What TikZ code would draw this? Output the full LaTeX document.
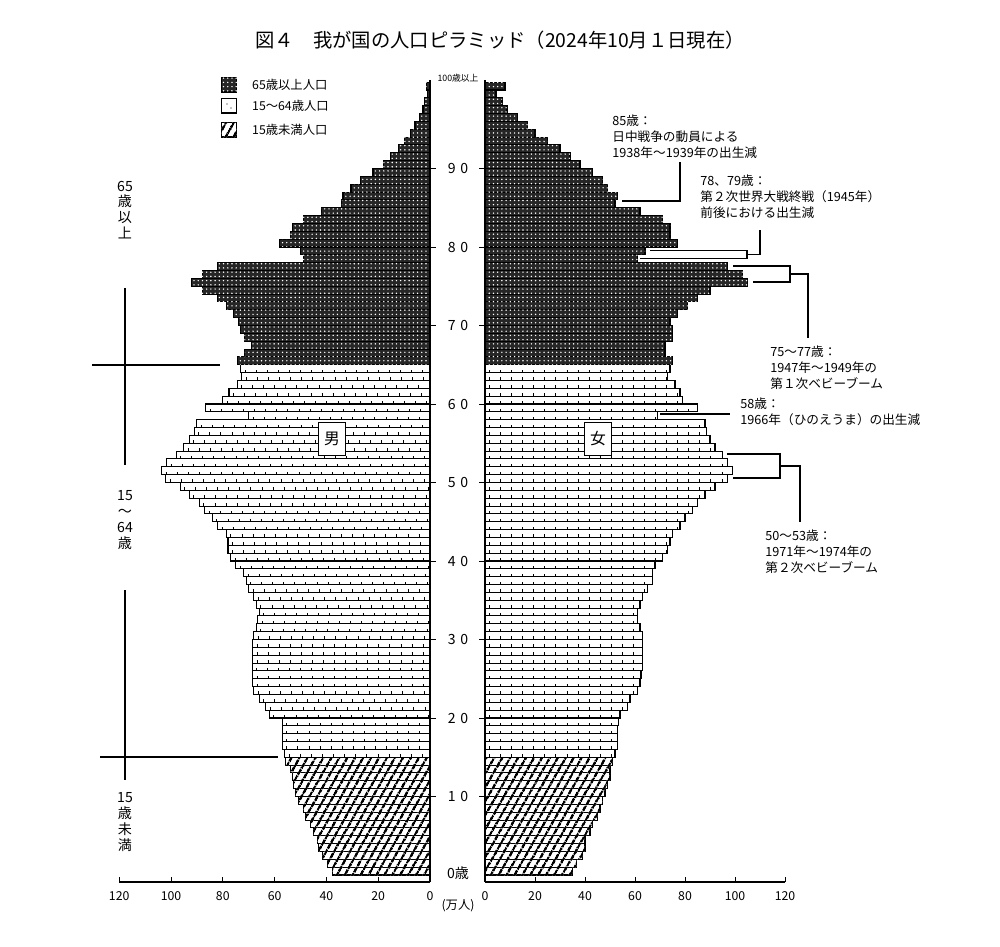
\documentclass[tikz,border=0pt]{standalone}
\usepackage{fontspec}
\setmainfont{Noto Sans CJK JP}
\usetikzlibrary{patterns.meta}

% population in 10,000s, age 0 to 100+
\def\malepop{37.8,39.7,41.6,43,43.6,45,46,48,49,50.6,52,52.6,53,54,55.7,56,57,57,57,57,62,63.5,66,68,68.5,68.5,68.7,68.5,68.5,68.5,68,67,66.5,66,67,68,70,71,72,75,77,78,78,78.6,82,84,87,89,93,96.5,102,103.6,101.7,98,95,93,91,90,70,86.5,80,77.6,74.5,72.6,73,74.5,71.5,69,71.7,73,74,76,78.5,82,88,92,88,82,49,50,58,54,53,49,42,34,33.6,30.5,27,22,18,15.4,12,10,7.7,5.8,4,2.7,2,1,1.5}
\def\femalepop{35,36.7,39,40,40,42,43,45,46,47,48,49,50,50,51,52,53,53,53,53.5,54,57,58,61,62,62.4,63,63,63,63,63,62,61,61,62,63,65,67,67,68,71,73,74,75,78,80,83,85,88,92,97,99,97,95,92,90,88.5,88,69,85,79,78,76,73,74,75,72,72,75,75,74,77,81,85,90,105,103,97,61,64,77,74,74,71,62,52,53,49,47,43,38,34,30,25,20,17,13,8.8,6.8,4.4,8}

\begin{document}
\begin{tikzpicture}[x=0.2mm, y=-0.2mm,
  old/.style={draw, line width=0.6pt, fill=black!85,
    postaction={pattern={Dots[distance=2.4pt,radius=0.45pt]}, pattern color=white}},
  work/.style={draw, line width=0.6pt, fill=white},
  young/.style={draw, line width=0.6pt, fill=white,
    postaction={pattern={Lines[angle=60,distance=4pt,line width=1.5pt]}, pattern color=black}},
  worktick/.style={line width=1.6pt, dash pattern=on 0.5pt off 5.8pt},
  lead/.style={line width=0.6pt},
  note/.style={font=\fontsize{7.2}{9}\selectfont, align=left, anchor=north west, inner sep=0pt},
  agelab/.style={font=\fontsize{8}{9}\selectfont},
  scalelab/.style={font=\fontsize{7}{8}\selectfont},
  sexbox/.style={draw, fill=white, line width=0.6pt, minimum width=15pt, minimum height=19pt, font=\fontsize{9}{10}\selectfont},
  legbox/.style={draw, line width=0.6pt, minimum width=9pt, minimum height=8pt, inner sep=0pt}
]
\useasboundingbox (0,0) rectangle (1000,947);

\node[font=\fontsize{11}{13}\selectfont] (title) at (500,40) {図４　我が国の人口ピラミッド（2024年10月１日現在）};

% bars
\foreach \v [count=\k from 0] in \malepop {
  \ifnum\k>64 \def\bstyle{old}\else\ifnum\k>14 \def\bstyle{work}\else\def\bstyle{young}\fi\fi
  \draw[\bstyle] ({430-\v*2.59},{875-7.85*(\k+1)}) rectangle (430,{875-7.85*\k});
  \ifnum\k>14 \ifnum\k<65
    \draw[worktick] ({430-\v*2.59+4},{875-7.85*\k-1.6}) -- (430,{875-7.85*\k-1.6});
  \fi\fi
}
\foreach \v [count=\k from 0] in \femalepop {
  \ifnum\k>64 \def\bstyle{old}\else\ifnum\k>14 \def\bstyle{work}\else\def\bstyle{young}\fi\fi
  \draw[\bstyle] (485,{875-7.85*(\k+1)}) rectangle ({485+\v*2.5},{875-7.85*\k});
  \ifnum\k>14 \ifnum\k<65
    \draw[worktick] (489,{875-7.85*\k-1.6}) -- ({485+\v*2.5},{875-7.85*\k-1.6});
  \fi\fi
}

% age axis
\draw[line width=0.8pt] (430,80) -- (430,882);
\draw[line width=0.8pt] (485,80) -- (485,882);
\foreach \a in {10,20,...,90} {
  \draw (430,{875-7.85*\a}) -- (436,{875-7.85*\a});
  \draw (479,{875-7.85*\a}) -- (485,{875-7.85*\a});
  \node[agelab] (age\a) at (458,{875-7.85*\a}) {\pgfmathparse{int(\a/10)}\pgfmathresult\,\,0};
}
\node[agelab] (age0) at (458,873) {0歳};
\node[font=\fontsize{5}{6}\selectfont] (age100) at (458,78) {100歳以上};

% value axes
\draw[line width=0.8pt] (119,882) -- (430,882);
\draw[line width=0.8pt] (485,882) -- (785,882);
\foreach \s in {0,20,...,120} {
  \draw ({430-\s*2.59},882) -- ({430-\s*2.59},877);
  \node[scalelab] (ml\s) at ({430-\s*2.59},896) {\s};
  \draw ({485+\s*2.5},882) -- ({485+\s*2.5},877);
  \node[scalelab] (fl\s) at ({485+\s*2.5},896) {\s};
}
\node[scalelab] (unit) at (458,906) {(万人)};

% legend
\node[legbox, old] (lg1) at (229,85) {};
\node[legbox, work] (lg2) at (229,106) {};
\node[legbox, young] (lg3) at (229,130) {};
\node[scalelab, anchor=west] at (246,85) {65歳以上人口};
\node[scalelab, anchor=west] at (246,106) {15～64歳人口};
\node[scalelab, anchor=west] at (246,130) {15歳未満人口};
\fill (lg2.center) ++(-2,-2) circle (0.4pt) ++(4,4) circle (0.4pt);

% sex labels
\node[sexbox] (male) at (332,439) {男};
\node[sexbox] (female) at (598,439) {女};

% age group brackets on the left
\node[agelab, align=center] (g65) at (125,210) {65\\歳\\以\\上};
\node[agelab, align=center] (g15) at (125,520) {15\\～\\64\\歳};
\node[agelab, align=center] (g0) at (125,822) {15\\歳\\未\\満};
\draw[lead] (125,288) -- (125,465);
\draw[lead] (125,590) -- (125,780);
\draw[lead] (92,365) -- (220,365);
\draw[lead] (100,757) -- (278,757);

% notes
\node[note] (n85) at (612,115) {85歳：\\日中戦争の動員による\\1938年～1939年の出生減};
\node[note] (n78) at (700,175) {78、79歳：\\第２次世界大戦終戦（1945年）\\前後における出生減};
\node[note] (n75) at (770,346) {75～77歳：\\1947年～1949年の\\第１次ベビーブーム};
\node[note] (n58) at (740,398) {58歳：\\1966年（ひのえうま）の出生減};
\node[note] (n50) at (765,530) {50～53歳：\\1971年～1974年の\\第２次ベビーブーム};

\coordinate (b85) at (622,201);
\coordinate (b79) at (650,250.5);
\coordinate (b78) at (640,258.5);
\coordinate (b77) at (733,266);
\coordinate (b75) at (753,282);
\coordinate (b58) at (660,414);
\coordinate (b53) at (727,454);
\coordinate (b50) at (733,478);

\draw[lead] (b85) -- (680,201) -- (680,162);
\draw[lead] (b79) -- (747,250.5) -- (747,258.5) -- (b78);
\draw[lead] (747,254.5) -- (760,254.5) -- (760,230);
\draw[lead] (b77) -- (790,266) -- (790,282) -- (b75);
\draw[lead] (790,274) -- (808,274) -- (808,338);
\draw[lead] (b58) -- (730,414);
\draw[lead] (b53) -- (780,454) -- (780,478) -- (b50);
\draw[lead] (780,466) -- (800,466) -- (800,522);
\end{tikzpicture}
\end{document}
